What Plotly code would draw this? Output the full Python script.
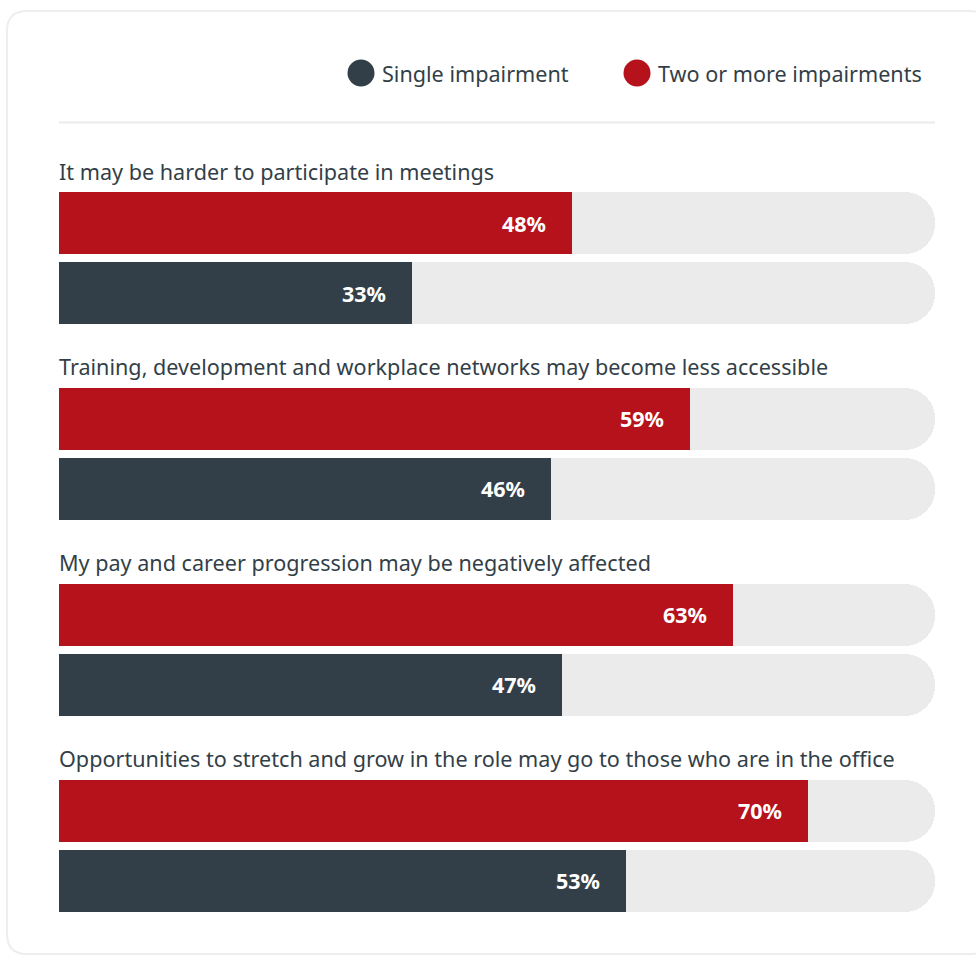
import plotly.graph_objects as go

# ---- data ----
categories = [
    "It may be harder to participate in meetings",
    "Training, development and workplace networks may become less accessible",
    "My pay and career progression may be negatively affected",
    "Opportunities to stretch and grow in the role may go to those who are in the office",
]
two_or_more = [48, 59, 63, 70]
single = [33, 46, 47, 53]
series_names = ["Single impairment", "Two or more impairments"]

# ---- style ----
W, H = 976, 958
RED = "#b5121b"
DARK = "#333f48"
GREY = "#ebebeb"
FONT = "Noto Sans"
XMAX = 81.9

X0, X1 = 59, 935            # pixel extent of the track
GROUP0 = 171                # first label centre (px)
PITCH = 195.9               # group pitch (px)
BAR_H = 62
RED_OFF = 52                # label centre -> red bar centre
DARK_OFF = 122              # label centre -> dark bar centre


def px(x):
    return x / W


def py(y):
    return 1 - y / H


fig = go.Figure()

label_y = [GROUP0 + i * PITCH for i in range(len(categories))]
red_y = [v + RED_OFF for v in label_y]
dark_y = [v + DARK_OFF for v in label_y]

# background tracks
fig.add_trace(go.Bar(
    x=[XMAX] * (2 * len(categories)), y=red_y + dark_y, orientation="h",
    width=BAR_H, marker=dict(color=GREY, cornerradius=30, line=dict(width=0)),
    hoverinfo="skip", showlegend=False))

fig.add_trace(go.Bar(
    x=two_or_more, y=red_y, orientation="h", width=BAR_H, name=series_names[1],
    marker=dict(color=RED, line=dict(width=0)), showlegend=False))
fig.add_trace(go.Bar(
    x=single, y=dark_y, orientation="h", width=BAR_H, name=series_names[0],
    marker=dict(color=DARK, line=dict(width=0)), showlegend=False))

annotations = []
for vals, ys in ((two_or_more, red_y), (single, dark_y)):
    for v, yy in zip(vals, ys):
        annotations.append(dict(
            x=v, y=yy, xref="x", yref="y", text=f"<b>{v}%</b>",
            showarrow=False, xanchor="right", yanchor="middle", xshift=-24,
            font=dict(family=FONT, size=21.5, color="white")))

for cat, yy in zip(categories, label_y):
    annotations.append(dict(
        x=px(X0) - 0.002, y=py(yy), xref="paper", yref="paper", text=cat,
        showarrow=False, xanchor="left", yanchor="middle",
        font=dict(family=FONT, size=21.6, color=DARK)))

# legend
legend_items = [(361, series_names[0], DARK), (637, series_names[1], RED)]
shapes = []
for cx, name, col in legend_items:
    r = 13.5
    shapes.append(dict(type="circle", xref="paper", yref="paper",
                       x0=px(cx - r), x1=px(cx + r), y0=py(73 + r), y1=py(73 - r),
                       fillcolor=col, line=dict(width=0)))
    annotations.append(dict(
        x=px(cx + 19), y=py(73), xref="paper", yref="paper", text=name,
        showarrow=False, xanchor="left", yanchor="middle",
        font=dict(family=FONT, size=21.6, color=DARK)))

# divider line
shapes.append(dict(type="line", xref="paper", yref="paper",
                   x0=px(X0), x1=px(X1), y0=py(122.5), y1=py(122.5),
                   line=dict(color="#ebebeb", width=2)))

# card border (rounded rectangle)
L, T, R, B, rad = 7, 11, 990, 954, 20
path = (f"M {px(L + rad)},{py(T)} L {px(R - rad)},{py(T)} "
        f"Q {px(R)},{py(T)} {px(R)},{py(T + rad)} L {px(R)},{py(B - rad)} "
        f"Q {px(R)},{py(B)} {px(R - rad)},{py(B)} L {px(L + rad)},{py(B)} "
        f"Q {px(L)},{py(B)} {px(L)},{py(B - rad)} L {px(L)},{py(T + rad)} "
        f"Q {px(L)},{py(T)} {px(L + rad)},{py(T)} Z")
shapes.append(dict(type="path", xref="paper", yref="paper", path=path,
                   line=dict(color="#eeeeee", width=2), layer="below"))

fig.update_layout(
    width=W, height=H, margin=dict(l=0, r=0, t=0, b=0),
    paper_bgcolor="white", plot_bgcolor="white",
    barmode="overlay", bargap=0,
    xaxis=dict(range=[0, XMAX], domain=[px(X0), px(X1)], visible=False, fixedrange=True),
    yaxis=dict(range=[H, 0], domain=[0, 1], visible=False, fixedrange=True),
    annotations=annotations, shapes=shapes, showlegend=False,
    font=dict(family=FONT),
)

fig.write_html("out.html", config={"displayModeBar": False},
               post_script="document.body.style.margin='0';document.body.style.overflow='hidden';")
